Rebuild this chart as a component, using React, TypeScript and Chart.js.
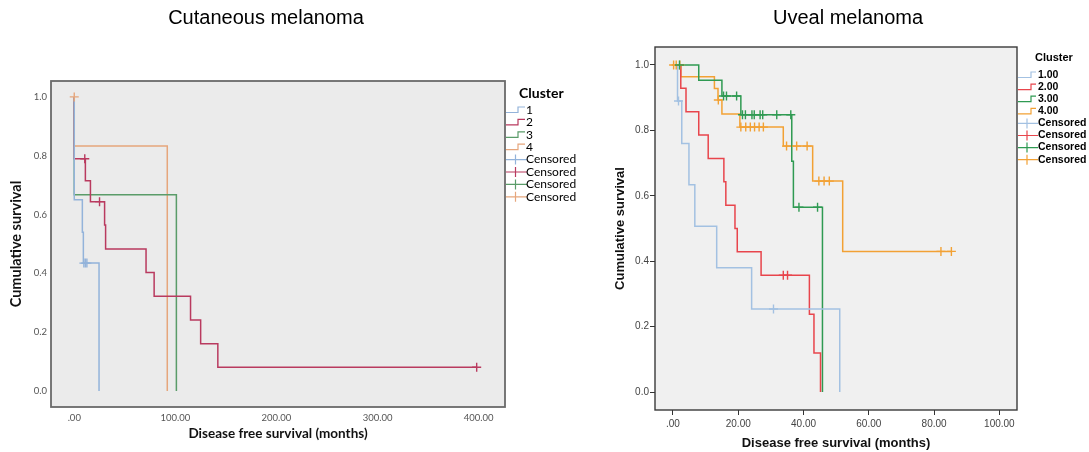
import React, { useEffect, useRef } from "react";
import { Chart, registerables } from "chart.js";

Chart.register(...registerables);

// ---------------- shared texts / ticks ----------------
const legendTitle = "Cluster";
const censoredLabel = "Censored";
const yAxisTitle = "Cumulative survival";
const xAxisTitle = "Disease free survival (months)";
const survTicks = [0, 0.2, 0.4, 0.6, 0.8, 1.0];
const survTickLabels = ["0.0", "0.2", "0.4", "0.6", "0.8", "1.0"];

// ---------------- Cutaneous melanoma ----------------
const cutTitle = "Cutaneous melanoma";
const cutClusters = ["1", "2", "3", "4"];
const cut1Time = [0, 0, 8, 9, 24.5];
const cut1Surv = [1, 0.65, 0.54, 0.435, 0];
const cut1CensTime = [9.5, 11, 12.5];
const cut1CensSurv = [0.435, 0.435, 0.435];
const cut2Time = [0, 0, 11, 16, 30, 31, 71, 79, 115, 125, 142, 398];
const cut2Surv = [1, 0.79, 0.715, 0.644, 0.565, 0.483, 0.403, 0.322, 0.242, 0.161, 0.081, 0.081];
const cut2CensTime = [10.4, 25, 398];
const cut2CensSurv = [0.79, 0.644, 0.081];
const cut3Time = [0, 0, 101];
const cut3Surv = [1, 0.667, 0];
const cut3CensTime: number[] = [];
const cut3CensSurv: number[] = [];
const cut4Time = [0, 0, 92];
const cut4Surv = [1, 0.833, 0];
const cut4CensTime = [0];
const cut4CensSurv = [1];
const cutXTicks = [0, 100, 200, 300, 400];
const cutXTickLabels = [".00", "100.00", "200.00", "300.00", "400.00"];

// ---------------- Uveal melanoma ----------------
const uvTitle = "Uveal melanoma";
const uvClusters = ["1.00", "2.00", "3.00", "4.00"];
const uv1Time = [0, 1.4, 2.7, 4.9, 6.7, 13.4, 24.1, 51.1];
const uv1Surv = [1, 0.89, 0.76, 0.634, 0.507, 0.38, 0.254, 0];
const uv1CensTime = [1.7, 30.8];
const uv1CensSurv = [0.89, 0.254];
const uv2Time = [0, 2.4, 4, 7.9, 10.8, 15.6, 16.2, 19, 19.7, 27, 41.8, 43.2, 45.2];
const uv2Surv = [1, 0.929, 0.857, 0.786, 0.714, 0.643, 0.571, 0.5, 0.429, 0.357, 0.238, 0.119, 0];
const uv2CensTime = [33.8, 35.1];
const uv2CensSurv = [0.357, 0.357];
const uv3Time = [0, 7.9, 15, 20.8, 36.4, 36.9, 45.8];
const uv3Surv = [1, 0.953, 0.905, 0.848, 0.706, 0.565, 0];
const uv3CensTime = [2, 15.5, 16.4, 19.5, 21.3, 22.2, 24.2, 24.9, 26.7, 27.5, 31.8, 36.1, 38.6, 44.3];
const uv3CensSurv = [1, 0.905, 0.905, 0.905, 0.848, 0.848, 0.848, 0.848, 0.848, 0.848, 0.848, 0.848, 0.565, 0.565];
const uv4Time = [0, 2.4, 12.7, 13.8, 15, 20.5, 33.8, 42.8, 52, 85.3];
const uv4Surv = [1, 0.964, 0.928, 0.893, 0.85, 0.81, 0.752, 0.645, 0.43, 0.43];
const uv4CensTime = [0.2, 1.0, 2.1, 13.9, 20.8, 22.3, 23.7, 25, 26.4, 27.7, 34.8, 37.9, 41.1, 44.7, 46.3, 47.9, 82.1, 85.3];
const uv4CensSurv = [1, 1, 1, 0.893, 0.81, 0.81, 0.81, 0.81, 0.81, 0.81, 0.752, 0.752, 0.752, 0.645, 0.645, 0.645, 0.43, 0.43];
const uvXTicks = [0, 20, 40, 60, 80, 100];
const uvXTickLabels = [".00", "20.00", "40.00", "60.00", "80.00", "100.00"];

// ---------------- helpers ----------------
function pts(t: number[], s: number[]) {
  return t.map((x, i) => ({ x, y: s[i] }));
}

function buildDatasets(
  labels: string[],
  times: number[][],
  survs: number[][],
  censT: number[][],
  censS: number[][],
  colors: string[],
  lw: number
) {
  const lines = labels.map((lab, i) => ({
    type: "line",
    label: lab,
    legendKind: "step",
    data: pts(times[i], survs[i]),
    borderColor: colors[i],
    backgroundColor: colors[i],
    borderWidth: lw,
    stepped: true,
    pointRadius: 0,
    pointHoverRadius: 0,
    fill: false,
    order: 2,
  }));
  const cens = labels.map((_lab, i) => ({
    type: "line",
    label: censoredLabel,
    legendKind: "cross",
    data: pts(censT[i], censS[i]),
    borderColor: colors[i],
    backgroundColor: colors[i],
    showLine: false,
    pointStyle: "cross",
    pointRadius: 4.5,
    pointHoverRadius: 4.5,
    pointBorderWidth: 1.4,
    order: 1,
  }));
  return [...lines, ...cens];
}

type Panel = {
  left: number;
  width: number;
  area: { left: number; right: number; top: number; bottom: number };
  xMin: number;
  xMax: number;
  yMin: number;
  yMax: number;
  xTicks: number[];
  xTickLabels: string[];
  datasets: any[];
  title: string;
  titleX: number;
  titleY: number;
  bg: string;
  frame: string;
  frameWidth: number;
  family: string;
  tickFont: number;
  tickColor: string;
  axisFontX: number;
  axisFontY: number;
  drawTicks: boolean;
  xLabelPad: number;
  yLabelPad: number;
  yTitlePad: number;
  xTitlePad: number;
  legend: {
    titleX: number;
    titleY: number;
    titleFont: string;
    itemFont: string;
    iconX: number;
    iconW: number;
    stepW: number;
    textX: number;
    rowStart: number;
    rowGap: number;
  };
};

const cutPanel: Panel = {
  left: 0,
  width: 595,
  area: { left: 51, right: 505, top: 81, bottom: 407 },
  xMin: -23,
  xMax: 426,
  yMin: -0.054,
  yMax: 1.054,
  xTicks: cutXTicks,
  xTickLabels: cutXTickLabels,
  datasets: buildDatasets(
    cutClusters,
    [cut1Time, cut2Time, cut3Time, cut4Time],
    [cut1Surv, cut2Surv, cut3Surv, cut4Surv],
    [cut1CensTime, cut2CensTime, cut3CensTime, cut4CensTime],
    [cut1CensSurv, cut2CensSurv, cut3CensSurv, cut4CensSurv],
    ["#93b3da", "#b93a5f", "#5a9c69", "#e6a67c"],
    1.5
  ),
  title: cutTitle,
  titleX: 266,
  titleY: 18,
  bg: "#ebebeb",
  frame: "#6a6a6a",
  frameWidth: 1.8,
  family: "Lato",
  tickFont: 9.5,
  tickColor: "#555",
  axisFontX: 13.5,
  axisFontY: 14.5,
  drawTicks: false,
  xLabelPad: 5,
  yLabelPad: 4,
  yTitlePad: 8,
  xTitlePad: 10,
  legend: {
    titleX: 519,
    titleY: 93,
    titleFont: "bold 14px Lato",
    itemFont: "12px Lato",
    iconX: 506,
    iconW: 19,
    stepW: 12,
    textX: 526,
    rowStart: 110,
    rowGap: 12.4,
  },
};

const uvPanel: Panel = {
  left: 595,
  width: 494,
  area: { left: 60, right: 422, top: 47, bottom: 410 },
  xMin: -5.5,
  xMax: 105.4,
  yMin: -0.055,
  yMax: 1.055,
  xTicks: uvXTicks,
  xTickLabels: uvXTickLabels,
  datasets: buildDatasets(
    uvClusters,
    [uv1Time, uv2Time, uv3Time, uv4Time],
    [uv1Surv, uv2Surv, uv3Surv, uv4Surv],
    [uv1CensTime, uv2CensTime, uv3CensTime, uv4CensTime],
    [uv1CensSurv, uv2CensSurv, uv3CensSurv, uv4CensSurv],
    ["#a3c1e2", "#e8454c", "#2f9a52", "#f2a134"],
    1.5
  ),
  title: uvTitle,
  titleX: 253,
  titleY: 18,
  bg: "#f0f0f0",
  frame: "#3a3a3a",
  frameWidth: 1.4,
  family: "'Liberation Sans', Arial, sans-serif",
  tickFont: 10,
  tickColor: "#444",
  axisFontX: 13,
  axisFontY: 13,
  drawTicks: true,
  xLabelPad: 3,
  yLabelPad: 1,
  yTitlePad: 18,
  xTitlePad: 1,
  legend: {
    titleX: 440,
    titleY: 58,
    titleFont: "bold 11px 'Liberation Sans', Arial, sans-serif",
    itemFont: "bold 10.5px 'Liberation Sans', Arial, sans-serif",
    iconX: 423,
    iconW: 18,
    stepW: 13,
    textX: 443,
    rowStart: 75,
    rowGap: 12.1,
  },
};

function makeDecor(p: Panel) {
  return {
    id: "kmDecor",
    beforeDraw(chart: any) {
      const { ctx, chartArea: a } = chart;
      ctx.save();
      ctx.fillStyle = p.bg;
      ctx.fillRect(a.left, a.top, a.right - a.left, a.bottom - a.top);
      ctx.restore();
    },
    afterDatasetsDraw(chart: any) {
      const { ctx, chartArea: a } = chart;
      ctx.save();
      ctx.strokeStyle = p.frame;
      ctx.lineWidth = p.frameWidth;
      ctx.strokeRect(a.left, a.top, a.right - a.left, a.bottom - a.top);
      ctx.restore();
    },
    afterDraw(chart: any) {
      const { ctx } = chart;
      ctx.save();
      // chart title
      ctx.fillStyle = "#000";
      ctx.font = "20px 'Liberation Sans', Arial, sans-serif";
      ctx.textAlign = "center";
      ctx.textBaseline = "middle";
      ctx.fillText(p.title, p.titleX, p.titleY);
      // legend
      const lg = p.legend;
      ctx.textAlign = "left";
      ctx.font = lg.titleFont;
      ctx.fillText(legendTitle, lg.titleX, lg.titleY);
      ctx.font = lg.itemFont;
      chart.data.datasets.forEach((d: any, i: number) => {
        const y = lg.rowStart + i * lg.rowGap;
        ctx.strokeStyle = d.borderColor;
        ctx.lineWidth = 1.2;
        ctx.beginPath();
        if (d.legendKind === "step") {
          ctx.moveTo(lg.iconX, y + 2.5);
          ctx.lineTo(lg.iconX + lg.stepW, y + 2.5);
          ctx.lineTo(lg.iconX + lg.stepW, y - 3);
          ctx.lineTo(lg.iconX + lg.iconW, y - 3);
        } else {
          ctx.moveTo(lg.iconX, y);
          ctx.lineTo(lg.iconX + lg.iconW + 2, y);
          ctx.moveTo(lg.iconX + lg.iconW / 2, y - 5);
          ctx.lineTo(lg.iconX + lg.iconW / 2, y + 5);
        }
        ctx.stroke();
        ctx.fillStyle = "#000";
        ctx.fillText(d.label, lg.textX, y);
      });
      ctx.restore();
    },
  };
}

function KMPanel({ p }: { p: Panel }) {
  const ref = useRef<HTMLCanvasElement | null>(null);
  useEffect(() => {
    if (!ref.current) return;
    const H = 452;
    const a = p.area;
    const gridOpts = p.drawTicks
      ? { display: true, drawOnChartArea: false, drawTicks: true, tickLength: 5, color: "#333", tickColor: "#333", lineWidth: 1 }
      : { display: false, drawTicks: false };
    const chart = new Chart(ref.current, {
      type: "line",
      data: { datasets: p.datasets as any },
      options: {
        responsive: false,
        animation: false,
        devicePixelRatio: 1,
        events: [],
        layout: { padding: { left: 0, top: a.top, right: p.width - a.right, bottom: 0 } },
        plugins: {
          legend: { display: false },
          tooltip: { enabled: false },
          title: { display: false },
        },
        scales: {
          x: {
            type: "linear",
            min: p.xMin,
            max: p.xMax,
            afterBuildTicks: (s: any) => {
              s.ticks = p.xTicks.map((v) => ({ value: v }));
            },
            afterFit: (s: any) => {
              s.height = H - a.bottom;
            },
            grid: gridOpts as any,
            border: { display: false },
            ticks: {
              autoSkip: false,
              maxRotation: 0,
              padding: p.xLabelPad,
              color: p.tickColor,
              font: { family: p.family, size: p.tickFont },
              callback: (_v: any, i: number) => p.xTickLabels[i],
            },
            title: {
              display: true,
              text: xAxisTitle,
              color: "#111",
              font: { family: p.family, size: p.axisFontX, weight: "bold" },
              padding: { top: 0, bottom: p.xTitlePad },
            },
          },
          y: {
            type: "linear",
            min: p.yMin,
            max: p.yMax,
            afterBuildTicks: (s: any) => {
              s.ticks = survTicks.map((v) => ({ value: v }));
            },
            afterFit: (s: any) => {
              s.width = a.left;
            },
            grid: gridOpts as any,
            border: { display: false },
            ticks: {
              autoSkip: false,
              padding: p.yLabelPad,
              color: p.tickColor,
              font: { family: p.family, size: p.tickFont },
              callback: (_v: any, i: number) => survTickLabels[i],
            },
            title: {
              display: true,
              text: yAxisTitle,
              color: "#111",
              font: { family: p.family, size: p.axisFontY, weight: "bold" },
              padding: { top: p.yTitlePad, bottom: 0 },
            },
          },
        },
      },
      plugins: [makeDecor(p)],
    } as any);
    return () => chart.destroy();
  }, [p]);
  return (
    <canvas
      ref={ref}
      width={p.width}
      height={452}
      style={{ position: "absolute", left: p.left, top: 0, width: p.width, height: 452 }}
    />
  );
}

export default function App() {
  return (
    <div style={{ position: "fixed", left: 0, top: 0, width: 1089, height: 452, background: "#fff", overflow: "hidden" }}>
      <KMPanel p={cutPanel} />
      <KMPanel p={uvPanel} />
    </div>
  );
}
